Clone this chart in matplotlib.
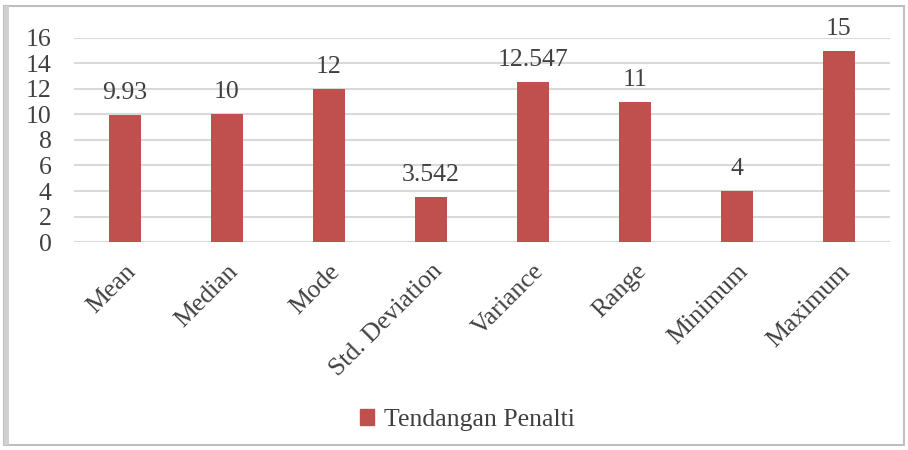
import matplotlib.pyplot as plt
from matplotlib.patches import Rectangle, Patch

categories = ['Mean', 'Median', 'Mode', 'Std. Deviation', 'Variance', 'Range', 'Minimum', 'Maximum']
values = [9.93, 10, 12, 3.542, 12.547, 11, 4, 15]
labels = ['9.93', '10', '12', '3.542', '12.547', '11', '4', '15']
series_name = 'Tendangan Penalti'

bar_color = '#C0504D'
text_color = '#404040'
fs = 18.5
plt.rcParams['font.family'] = ['Liberation Serif', 'DejaVu Serif']

fig = plt.figure(figsize=(9.08, 4.5), dpi=100)

# outer chart frame with a soft shadow on the left
fig.patches.append(Rectangle((0.004, 0.012), 0.992, 0.975, transform=fig.transFigure,
                             facecolor='none', edgecolor='#BFBFBF', linewidth=1.5))
fig.patches.append(Rectangle((0.004, 0.012), 0.006, 0.975, transform=fig.transFigure,
                             facecolor='#D0D0D0', edgecolor='none'))

ax = fig.add_axes([0.0815, 0.4622, 0.8985, 0.4534])
x = range(len(categories))
ax.bar(x, values, width=0.31, color=bar_color, zorder=3)

for xi, v, lab in zip(x, values, labels):
    ax.annotate(lab, (xi, v), xytext=(0, 8), textcoords='offset points',
                ha='center', va='bottom', fontsize=fs, color=text_color)

ax.set_xlim(-0.5, len(categories) - 0.5)
ax.set_ylim(0, 16)
ax.set_yticks(range(0, 17, 2))
ax.yaxis.grid(True, color='#D9D9D9', linewidth=1.5, zorder=0)
ax.set_axisbelow(True)
for s in ax.spines.values():
    s.set_visible(False)
ax.tick_params(axis='both', length=0, labelsize=fs, colors=text_color)
ax.tick_params(axis='y', pad=16)
ax.set_xticks(list(x))
ax.set_xticklabels(categories, rotation=45, ha='right', rotation_mode='anchor')
ax.tick_params(axis='x', pad=13)

fig.legend(handles=[Patch(color=bar_color, label=series_name)], loc='center',
           bbox_to_anchor=(0.515, 0.067), frameon=False, fontsize=fs,
           handlelength=0.55, handleheight=0.55, handletextpad=0.4,
           labelcolor=text_color)

fig.savefig('out.png', dpi=100)
